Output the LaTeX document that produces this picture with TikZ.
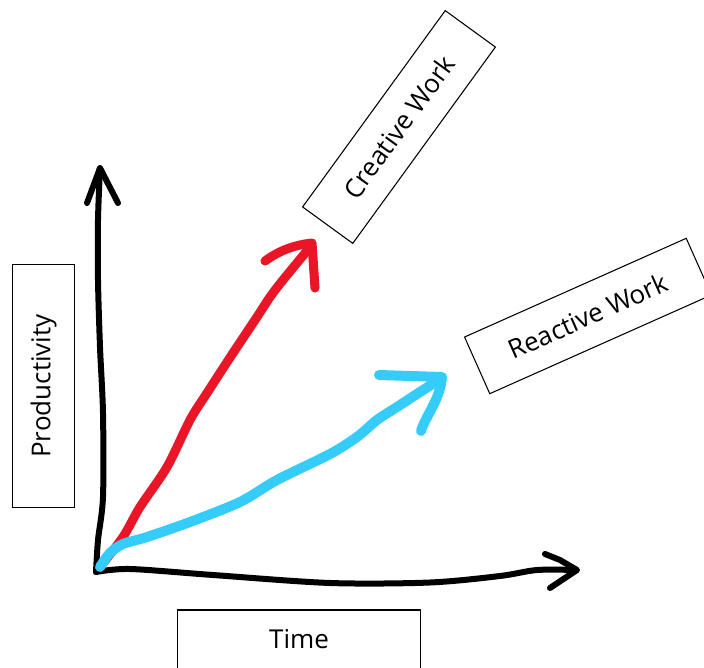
\documentclass[tikz,border=0pt]{standalone}
\usepackage{fontspec}
\setmainfont{Open Sans}
\definecolor{penred}{RGB}{234,22,40}
\definecolor{penblue}{RGB}{54,204,250}
\tikzset{
  label box/.style={draw=black, line width=0.8pt, minimum width=182pt, minimum height=46.5pt,
    inner sep=0pt, font=\fontsize{19.5}{23}\selectfont, align=center},
  pen/.style={line width=4.5pt, line cap=round, line join=round},
  redpen/.style={pen, draw=penred, line width=6.8pt},
  bluepen/.style={pen, draw=penblue, line width=7.5pt},
}
\begin{document}
\begin{tikzpicture}[x=0.75pt, y=-0.75pt]
\useasboundingbox (0,0) rectangle (704,668);
% label boxes
\node[label box, rotate=54] (creative) at (399,127) {Creative Work};
\node[label box, rotate=24] (reactive) at (588,316) {Reactive Work};
\node[label box, rotate=90] (prod) at (43.5,386) {Productivity};
\node[label box] (time) at (299,641) {\raisebox{3pt}{Time}};
% origin
\coordinate (origin) at (96,572);
% y axis
\draw[pen] plot[smooth, tension=0.5] coordinates {(100,168) (98,220) (98,280) (100,347) (103,413) (103,497) (98,540) (96,572)};
\draw[pen] (87,203) -- (100,168) -- (118,203);
% x axis
\draw[pen] plot[smooth, tension=0.5] coordinates {(96,572) (130,569) (213,575) (330,583) (430,582.5) (500,576) (537,570) (576,570)};
\draw[pen] (545,554) -- (560,560) -- (577,570) -- (550,588);
% red curve
\draw[redpen] plot[smooth, tension=0.5] coordinates {(100,567) (123,537) (140,507) (167,467) (190,420) (207,393) (233,353) (257,317) (270,297) (283,280) (311,246)};
\draw[redpen] (265,261) .. controls (280,250) and (295,245) .. (312,243) -- (315,288);
% blue curve
\draw[bluepen] plot[smooth, tension=0.5] coordinates {(100,567) (110,553) (123,544) (147,537) (190,522) (240,502) (277,480) (330,454) (357,437) (377,420) (397,407) (420,392) (442,378)};
\draw[bluepen] (379,375) -- (442,377) .. controls (440,400) and (426,415) .. (421,431);
\end{tikzpicture}
\end{document}
